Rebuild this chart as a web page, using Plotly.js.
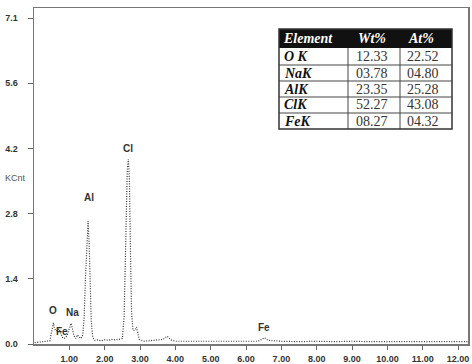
<!DOCTYPE html>
<html>
<head>
<meta charset="utf-8">
<script src="https://cdn.plot.ly/plotly-3.0.1.min.js"></script>
<style>html,body{margin:0;padding:0;background:#fff;}#chart{width:472px;height:364px;}</style>
</head>
<body>
<div id="chart"></div>
<script>
// Spectrum (keV vs kilo-counts)
const energy = [0.02,0.2,0.35,0.45,0.48,0.52,0.55,0.58,0.62,0.67,0.71,0.75,0.8,0.85,0.9,0.95,1.0,1.05,1.09,1.13,1.18,1.23,1.28,1.33,1.38,1.42,1.46,1.5,1.53,1.56,1.59,1.62,1.66,1.72,1.8,1.9,2.0,2.1,2.2,2.3,2.4,2.5,2.55,2.6,2.64,2.67,2.7,2.73,2.76,2.8,2.86,2.9,2.94,2.98,3.1,3.3,3.5,3.65,3.77,3.88,4.0,4.5,5.0,5.5,6.0,6.3,6.4,6.52,6.62,7.0,7.5,8.0,8.5,9.0,9.5,10.0,10.5,11.0,11.5,12.0,12.28];
const counts = [0.03,0.05,0.06,0.07,0.2,0.38,0.46,0.35,0.28,0.3,0.33,0.25,0.15,0.12,0.14,0.22,0.35,0.45,0.32,0.18,0.12,0.2,0.15,0.12,0.2,0.6,1.5,2.45,2.68,2.2,1.3,0.5,0.15,0.08,0.09,0.07,0.09,0.08,0.1,0.09,0.1,0.12,0.6,2.5,3.8,4.03,3.6,2.0,0.7,0.3,0.3,0.37,0.25,0.1,0.06,0.07,0.08,0.1,0.17,0.09,0.06,0.06,0.05,0.06,0.06,0.06,0.08,0.14,0.08,0.06,0.05,0.06,0.05,0.06,0.05,0.05,0.05,0.05,0.05,0.05,0.05];

// Peak labels
const peakNames = ["O","Fe","Na","Al","Cl","Fe"];
const peakX = [0.54,0.8,1.1,1.55,2.67,6.52];
const peakY = [0.72,0.28,0.68,3.2,4.25,0.35];

// Axis ticks
const xTickVals = [1,2,3,4,5,6,7,8,9,10,11,12];
const xTickText = ["1.00","2.00","3.00","4.00","5.00","6.00","7.00","8.00","9.00","10.00","11.00","12.00"];
const yTickVals = [0,1.42,2.84,4.26,5.68,7.1];
const yTickText = ["0.0","1.4","2.8","4.2","5.6","7.1"];

// Composition table
const tableHeader = ["Element","Wt%","At%"];
const elements = ["O K","NaK","AlK","ClK","FeK"];
const wtPct = ["12.33","03.78","23.35","52.27","08.27"];
const atPct = ["22.52","04.80","25.28","43.08","04.32"];

// geometry (pixels) for table overlay
const W = 472, H = 364, L = 34, R = 4, T = 8, B = 20;
const pw = W - L - R, ph = H - T - B;
const px = v => (v - L) / pw;
const py = v => (H - B - v) / ph;
const colX = [279, 348, 400, 452];
const headX = [281, 356, 406];
const rowY = [29, 48, 65, 81, 97, 113, 129];

const shapes = [];
const annotations = [];
shapes.push({type:'rect', xref:'paper', yref:'paper', x0:px(colX[0]), x1:px(colX[3]), y0:py(rowY[0]), y1:py(rowY[1]), fillcolor:'#111', line:{width:0}});
shapes.push({type:'rect', xref:'paper', yref:'paper', x0:px(colX[0]), x1:px(colX[3]), y0:py(rowY[0]), y1:py(rowY[6]), fillcolor:'rgba(0,0,0,0)', line:{color:'#333', width:1.5}});
for (let r = 2; r < 6; r++) shapes.push({type:'line', xref:'paper', yref:'paper', x0:px(colX[0]), x1:px(colX[3]), y0:py(rowY[r]), y1:py(rowY[r]), line:{color:'#444', width:1}});
for (let c = 1; c < 3; c++) shapes.push({type:'line', xref:'paper', yref:'paper', x0:px(colX[c]), x1:px(colX[c]), y0:py(rowY[1]), y1:py(rowY[6]), line:{color:'#444', width:1}});

const serif = 'Liberation Serif, Times New Roman, serif';
tableHeader.forEach((h, c) => {
  annotations.push({xref:'paper', yref:'paper', x:px(headX[c]), y:py((rowY[0]+rowY[1])/2), xanchor:'left', yanchor:'middle', showarrow:false, text:'<b><i>'+h+'</i></b>', font:{family:serif, size:14, color:'#fff'}});
});
elements.forEach((e, r) => {
  const yc = py((rowY[r+1]+rowY[r+2])/2);
  annotations.push({xref:'paper', yref:'paper', x:px(282), y:yc, xanchor:'left', yanchor:'middle', showarrow:false, text:'<b><i>'+e+'</i></b>', font:{family:serif, size:14, color:'#111'}});
  annotations.push({xref:'paper', yref:'paper', x:px(372), y:yc, xanchor:'center', yanchor:'middle', showarrow:false, text:wtPct[r], font:{family:serif, size:14, color:'#333'}});
  annotations.push({xref:'paper', yref:'paper', x:px(423), y:yc, xanchor:'center', yanchor:'middle', showarrow:false, text:atPct[r], font:{family:serif, size:14, color:'#333'}});
});
peakNames.forEach((n, i) => {
  annotations.push({x:peakX[i], y:peakY[i], xref:'x', yref:'y', showarrow:false, text:'<b>'+n+'</b>', font:{family:'Liberation Sans, Arial, sans-serif', size:10, color:'#333'}});
});
annotations.push({xref:'paper', yref:'paper', x:px(3), y:py(178), xanchor:'left', yanchor:'middle', showarrow:false, text:'KCnt', font:{family:'Liberation Sans, Arial, sans-serif', size:9, color:'#555'}});

const trace = {x:energy, y:counts, type:'scatter', mode:'lines', line:{color:'#333', width:1.2, dash:'1px,1.5px'}, hoverinfo:'skip'};

const tickFont = {family:'Liberation Sans, Arial, sans-serif', size:9, color:'#333', weight:'bold'};
const layout = {
  width:W, height:H,
  margin:{l:L, r:R, t:T, b:B, pad:0},
  paper_bgcolor:'#fff', plot_bgcolor:'#fff',
  showlegend:false,
  xaxis:{range:[0,12.28], tickvals:xTickVals, ticktext:xTickText, ticks:'outside', ticklen:4, tickcolor:'#666', showgrid:false, zeroline:false, showline:true, mirror:true, linecolor:'#777', linewidth:1.5, tickfont:tickFont, ticklabelstandoff:2},
  yaxis:{range:[0,7.32], tickvals:yTickVals, ticktext:yTickText, ticks:'outside', ticklen:5, tickcolor:'#666', showgrid:false, zeroline:false, showline:true, mirror:true, linecolor:'#777', linewidth:1.5, tickfont:tickFont, ticklabelstandoff:8},
  shapes:shapes, annotations:annotations
};
Plotly.newPlot('chart', [trace], layout, {displayModeBar:false, staticPlot:true});
</script>
</body>
</html>
